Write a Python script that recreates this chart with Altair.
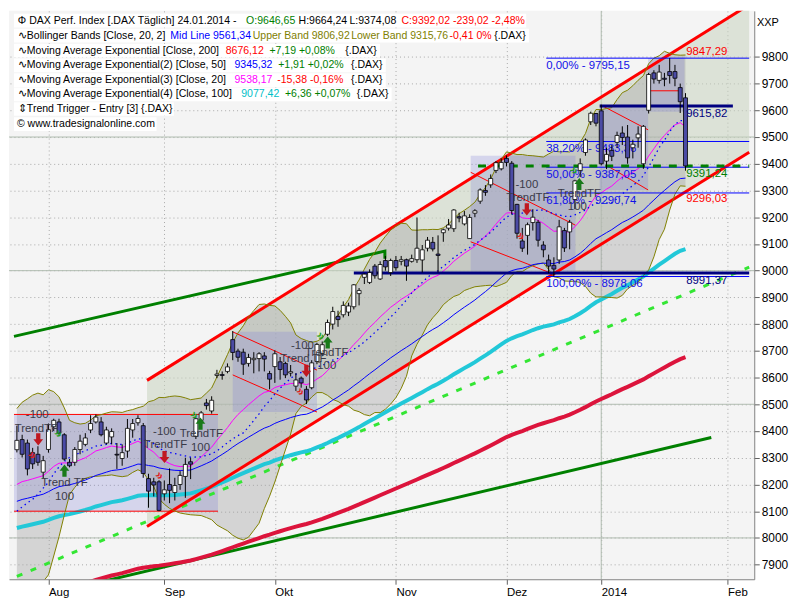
import altair as alt
import numpy as np
import pandas as pd

# ---------------- data: daily DAX candles, index 0 = 24.07.2013 ... 127 = 24.01.2014
opens = [8330, 8368, 8355, 8319, 8313, 8246, 8331, 8416, 8434, 8386,
         8283, 8283, 8331, 8350, 8404, 8434, 8434, 8355, 8378, 8313,
         8297, 8325, 8404, 8431, 8420, 8222, 8210, 8210, 8165, 8200,
         8170, 8200, 8230, 8285, 8380, 8440, 8505, 8475, 8608, 8611,
         8623, 8742, 8699, 8695, 8653, 8667, 8671, 8681, 8615, 8641,
         8659, 8653, 8617, 8568, 8598, 8556, 8562, 8660, 8690, 8762,
         8800, 8829, 8835, 8845, 8865, 8914, 8975, 8956, 9017, 8969,
         9038, 8993, 9038, 9035, 9041, 9035, 9041, 9040, 9084, 9106,
         9062, 9142, 9159, 9157, 9202, 9175, 9120, 9215, 9260, 9300,
         9321, 9375, 9381, 9420, 9402, 9248, 9111, 9132, 9180, 9181,
         9096, 9040, 9020, 9040, 9150, 9145, 9266, 9375, 9442, 9557,
         9588, 9598, 9410, 9450, 9480, 9515, 9500, 9460, 9497, 9400,
         9600, 9740, 9712, 9720, 9745, 9745, 9685, 9646.65]
highs = [8420, 8386, 8368, 8337, 8343, 8307, 8428, 8446, 8446, 8392,
         8295, 8340, 8386, 8392, 8459, 8462, 8452, 8416, 8410, 8355,
         8350, 8445, 8445, 8459, 8430, 8240, 8225, 8216, 8215, 8260,
         8225, 8250, 8300, 8300, 8450, 8475, 8520, 8530, 8629, 8623,
         8653, 8774, 8708, 8708, 8689, 8695, 8695, 8695, 8625, 8702,
         8677, 8659, 8647, 8617, 8604, 8568, 8665, 8730, 8735, 8817,
         8865, 8850, 8885, 8880, 8950, 8935, 8990, 9005, 9025, 9035,
         9055, 9045, 9055, 9055, 9045, 9060, 9199, 9096, 9126, 9126,
         9132, 9157, 9193, 9230, 9217, 9223, 9211, 9230, 9308, 9320,
         9360, 9410, 9420, 9431, 9410, 9250, 9160, 9180, 9230, 9190,
         9110, 9060, 9050, 9190, 9160, 9190, 9340, 9420, 9495, 9595,
         9590, 9621, 9460, 9470, 9520, 9540, 9545, 9490, 9540, 9545,
         9740, 9750, 9770, 9740, 9795.15, 9770, 9700, 9664.24]
lows = [8320, 8301, 8234, 8258, 8270, 8222, 8319, 8400, 8386, 8289,
        8264, 8270, 8313, 8343, 8392, 8428, 8380, 8350, 8350, 8258,
        8270, 8300, 8375, 8420, 8225, 8113, 8155, 8100, 8140, 8130,
        8140, 8180, 8150, 8220, 8370, 8420, 8480, 8465, 8598, 8592,
        8616, 8665, 8659, 8610, 8641, 8616, 8623, 8623, 8556, 8580,
        8592, 8598, 8604, 8550, 8562, 8501, 8556, 8650, 8680, 8756,
        8780, 8790, 8825, 8830, 8855, 8870, 8950, 8950, 8970, 8965,
        9000, 8980, 9000, 9020, 8962, 9030, 9029, 8993, 9072, 9072,
        8993, 9108, 9150, 9145, 9181, 9169, 9120, 9200, 9250, 9280,
        9310, 9365, 9375, 9390, 9210, 9120, 9070, 9060, 9150, 9090,
        9050, 8990, 8978.06, 9025, 9070, 9080, 9230, 9350, 9430, 9545,
        9540, 9394, 9380, 9410, 9460, 9470, 9400, 9420, 9460, 9381,
        9588, 9700, 9700, 9690, 9700, 9690, 9590, 9374.08]
closes = [8365, 8313, 8258, 8277, 8283, 8289, 8405, 8440, 8392, 8295,
          8270, 8331, 8362, 8374, 8428, 8452, 8386, 8404, 8398, 8310,
          8319, 8410, 8428, 8447, 8241, 8175, 8198, 8103, 8180, 8178,
          8196, 8234, 8275, 8276, 8446, 8468, 8495, 8515, 8613, 8608,
          8640, 8694, 8676, 8650, 8675, 8672, 8689, 8669, 8594, 8689,
          8630, 8610, 8622, 8591, 8580, 8516, 8655, 8724, 8723, 8806,
          8847, 8817, 8870, 8868, 8947, 8926, 8987, 8993, 8981, 9023,
          9014, 9038, 9011, 9041, 9017, 9045, 9084, 9078, 9114, 9081,
          9057, 9153, 9171, 9227, 9197, 9205, 9199, 9224, 9302, 9293,
          9345, 9404, 9405, 9405, 9225, 9140, 9084, 9172, 9200, 9114,
          9078, 9017, 9006, 9164, 9085, 9181, 9336, 9400, 9489, 9589,
          9552, 9400, 9435, 9428, 9506, 9498, 9422, 9473, 9511, 9540,
          9734, 9717, 9743, 9716, 9730, 9720, 9632, 9392.02]
# closes before the first visible bar (needed by the 20-day Bollinger window)
prior_closes = [7990, 7959, 8001, 7911, 7829, 7969, 7806, 7867, 7900, 7968,
                8150, 8180, 8240, 8250, 8270, 8330, 8331, 8325, 8356]

# EMA values at the first bar / last bar (legend)
ema_first = {20: 8200.0, 50: 8137.0, 100: 8037.0}
ema200_last = 8676.12

month_idx = [6, 28, 49, 72, 93, 111, 135]
month_lbl = ["Aug", "Sep", "Okt", "Nov", "Dez", "2014", "Feb"]
y_ticks = list(range(7900, 9801, 100))
major_levels = [8000, 8500, 9000, 9500]
year_idx = [111]

# drawing-tool objects (bar index, price)
chan_i = [24.72, 139.1]
chan_upper = [8589.5, 9995.0]
chan_lower = [8043.0, 9443.0]
green_top_i = [-0.55, 69.9, 69.9]
green_top_v = [8754.0, 9073.0, 9045.0]
green_bot_i = [15.0, 131.9]
green_bot_v = [7831.0, 8376.0]
lime_i = [0.0, 139.1]
lime_v = [7856.0, 9013.0]

box_i0 = [-0.55, 41.0, 86.2, 110.7, 119.9]
box_i1 = [38.2, 57.0, 106.1, 119.9, 126.8]
box_top = [8462, 8771, 9430, 9617, 9796]
box_bot = [8100, 8471, 8998, 9302, 9595]

seg_i0 = [-0.55, -0.55, 41.0, 41.0, 86.2, 86.2, 111.1, 112.0, 119.9]
seg_v0 = [8462, 8100, 8771, 8610, 9368, 9108, 9618, 9394, 9673]
seg_i1 = [38.2, 38.2, 57.0, 57.0, 106.1, 100.9, 119.9, 119.9, 126.3]
seg_v1 = [8462, 8100, 8628, 8471, 9170, 8995, 9527, 9302, 9673]

fib_levels = [9795.15, 9483.36, 9387.05, 9290.74, 8978.06]
fib_labels = ["0,00% - 9795,15", "38,20% - 9483,36", "50,00% - 9387,05",
              "61,80% - 9290,74", "100,00% - 8978,06"]
fib_i0, fib_i1 = 100.55, 139.1

navy_i0 = [110.7, 64.0]
navy_i1 = [136.0, 139.1]
navy_v = [9615.82, 8991.37]
gdash_i0, gdash_i1, gdash_v = 87.6, 139.1, 9391.24

val_labels = ["9847,29", "9615,82", "9391,24", "9296,03", "8991,37"]
val_values = [9847.29, 9615.82, 9391.24, 9296.03, 8991.37]
val_colors = ["#ff0000", "#000080", "#008000", "#ff0000", "#000080"]

# ---------------- pixel <-> data helpers (reference pixel positions for overlays)
def DI(ox):
    return (ox - 3) / 5.42

def DV(oy):
    return 9800 - (oy - 47) / 0.2732

XDOM = [DI(0), DI(757)]
YDOM = [DV(581), DV(0)]
XS = alt.Scale(domain=XDOM, nice=False, zero=False)
YS = alt.Scale(domain=YDOM, nice=False, zero=False)

expr = " : ".join([f"datum.value == {v} ? '{l}'" for v, l in zip(month_idx, month_lbl)]) + " : ''"
X_AXIS = alt.Axis(values=month_idx, labelExpr=expr, orient="bottom", grid=True,
                  gridColor="#a8a8a8", gridDash=[1, 3], domainColor="#808080",
                  tickColor="#606060", tickSize=5, labelAlign="left", labelPadding=2,
                  labelFont="Liberation Sans", labelFontSize=11.5, labelColor="#000000",
                  labelFlush=False, labelOverlap=False, title=None)
Y_AXIS = alt.Axis(values=y_ticks, format="d", orient="right", grid=True,
                  gridColor="#a8a8a8", gridDash=[1, 3], domainColor="#808080",
                  tickColor="#606060", tickSize=5, labelPadding=2,
                  labelFont="Liberation Sans", labelFontSize=12, labelColor="#000000",
                  labelFlush=False, labelOverlap=False, title=None)

def X(f):
    return alt.X(f + ":Q", scale=XS, axis=X_AXIS)

def Y(f):
    return alt.Y(f + ":Q", scale=YS, axis=Y_AXIS)

# Arial / Liberation Sans advance widths (per 1000 em) to lay legend segments out
AW = {" ": 278, "%": 889, "+": 584, ",": 278, "-": 333, ".": 278, ":": 278, "(": 333, ")": 333,
      "[": 278, "]": 278, "{": 334, "}": 334, "A": 667, "B": 667, "C": 722, "D": 722, "E": 667,
      "F": 611, "H": 722, "I": 278, "L": 556, "M": 833, "O": 778, "P": 667, "T": 611, "U": 722,
      "X": 667, "a": 556, "b": 556, "c": 500, "d": 556, "e": 556, "f": 278, "g": 556, "h": 556,
      "i": 222, "l": 222, "m": 833, "n": 556, "o": 556, "p": 556, "r": 333, "s": 500, "t": 278,
      "u": 556, "v": 500, "w": 722, "x": 500, "y": 500, "\u00e4": 556, "\u00a9": 737}

def text_w(s, size):
    return sum(AW.get(ch, 556 if ch.isdigit() else 820) for ch in s) * size / 1000.0

# ---------------- indicators
c = np.array(closes, float)
n = len(c)
full = np.concatenate([np.array(prior_closes, float), c])
bbm = np.array([full[k:k + 20].mean() for k in range(n)])
bbs = np.array([full[k:k + 20].std() for k in range(n)])
bbu = bbm + 2 * bbs
bbl = bbm - 2 * bbs

def ema(seed, period):
    a = 2.0 / (period + 1)
    out = [seed]
    for k in range(1, n):
        out.append(out[-1] + a * (c[k] - out[-1]))
    return np.array(out)

a200 = 2.0 / 201
seed200 = (ema200_last - ema(0.0, 200)[-1]) / (1 - a200) ** (n - 1)

df = pd.DataFrame({
    "i": np.arange(n), "o": opens, "h": highs, "l": lows, "c": closes,
    "bbu": bbu, "bbl": bbl, "bbm": bbm,
    "e20": ema(ema_first[20], 20), "e50": ema(ema_first[50], 50),
    "e100": ema(ema_first[100], 100), "e200": ema(seed200, 200),
})
df["dir"] = np.where(df["c"] >= df["o"], "up", "down")

layers = []

# solid grid lines
layers.append(alt.Chart(pd.DataFrame({"v": major_levels})).mark_rule(color="#b0bcb0", strokeWidth=1).encode(y=Y("v")))
layers.append(alt.Chart(pd.DataFrame({"i": year_idx})).mark_rule(color="#b0bcb0", strokeWidth=1).encode(x=X("i")))

# channel fill
chan_df = pd.DataFrame({"i": chan_i, "hi": chan_upper, "lo": chan_lower})
layers.append(alt.Chart(chan_df).mark_area(color="#c8d4c0", opacity=0.55, clip=True).encode(
    x=X("i"), y=Y("hi"), y2=alt.Y2("lo:Q")))
# Bollinger fill
layers.append(alt.Chart(df).mark_area(color="#a8a8a8", opacity=0.42, clip=True).encode(
    x=X("i"), y=Y("bbu"), y2=alt.Y2("bbl:Q")))
# boxes
box_df = pd.DataFrame({"i0": box_i0, "i1": box_i1, "t": box_top, "b": box_bot})
layers.append(alt.Chart(box_df).mark_rect(color="#8080d8", opacity=0.27, clip=True).encode(
    x=X("i0"), x2=alt.X2("i1:Q"), y=Y("t"), y2=alt.Y2("b:Q")))

# trend lines
def line(i_list, v_list, **kw):
    d = pd.DataFrame({"i": i_list, "v": v_list, "k": range(len(i_list))})
    return alt.Chart(d).mark_line(clip=True, **kw).encode(x=X("i"), y=Y("v"), order="k:Q")

layers.append(line(green_top_i, green_top_v, color="#008000", strokeWidth=3))
layers.append(line(green_bot_i, green_bot_v, color="#008000", strokeWidth=3))
layers.append(line(lime_i, lime_v, color="#33e633", strokeWidth=3, strokeDash=[6, 9]))

# EMAs (thick)
layers.append(alt.Chart(df).mark_line(color="#dc143c", strokeWidth=4, clip=True).encode(x=X("i"), y=Y("e200")))
layers.append(alt.Chart(df).mark_line(color="#22c8d8", strokeWidth=4, clip=True).encode(x=X("i"), y=Y("e100")))

# channel lines
layers.append(line(chan_i, chan_upper, color="#ff0000", strokeWidth=3))
layers.append(line(chan_i, chan_lower, color="#ff0000", strokeWidth=3))

# box red lines
seg_df = pd.DataFrame({"i0": seg_i0, "v0": seg_v0, "i1": seg_i1, "v1": seg_v1})
layers.append(alt.Chart(seg_df).mark_rule(color="#ff0000", strokeWidth=1, clip=True).encode(
    x=X("i0"), y=Y("v0"), x2=alt.X2("i1:Q"), y2=alt.Y2("v1:Q")))

# Bollinger + thin EMAs
layers.append(alt.Chart(df).mark_line(color="#808000", strokeWidth=1, clip=True).encode(x=X("i"), y=Y("bbu")))
layers.append(alt.Chart(df).mark_line(color="#808000", strokeWidth=1, clip=True).encode(x=X("i"), y=Y("bbl")))
layers.append(alt.Chart(df).mark_line(color="#0000ff", strokeWidth=1, clip=True).encode(x=X("i"), y=Y("e50")))
layers.append(alt.Chart(df).mark_line(color="#ff00ff", strokeWidth=1, clip=True).encode(x=X("i"), y=Y("e20")))
layers.append(alt.Chart(df).mark_line(color="#0000ff", strokeWidth=1.3, strokeDash=[1.5, 3.5], clip=True).encode(x=X("i"), y=Y("bbm")))

# fib levels
fib_df = pd.DataFrame({"v": fib_levels, "t": fib_labels, "i0": fib_i0, "i1": fib_i1})
layers.append(alt.Chart(fib_df).mark_rule(color="#0000ff", strokeWidth=1, clip=True).encode(
    x=X("i0"), x2=alt.X2("i1:Q"), y=Y("v")))
layers.append(alt.Chart(fib_df).mark_text(align="left", baseline="top", dy=2, color="#1010e8",
                                          font="Liberation Sans", fontSize=11.5).encode(
    x=X("i0"), y=Y("v"), text="t:N"))

# navy + green dashed horizontal lines
navy_df = pd.DataFrame({"i0": navy_i0, "i1": navy_i1, "v": navy_v})
layers.append(alt.Chart(navy_df).mark_rule(color="#000080", strokeWidth=3, clip=True).encode(
    x=X("i0"), x2=alt.X2("i1:Q"), y=Y("v")))
gd_df = pd.DataFrame({"i0": [gdash_i0], "i1": [gdash_i1], "v": [gdash_v]})
layers.append(alt.Chart(gd_df).mark_rule(color="#008000", strokeWidth=3, strokeDash=[8, 8], clip=True).encode(
    x=X("i0"), x2=alt.X2("i1:Q"), y=Y("v")))

# candles
layers.append(alt.Chart(df).mark_rule(color="#000000", strokeWidth=1, clip=True).encode(
    x=X("i"), y=Y("l"), y2=alt.Y2("h:Q")))
layers.append(alt.Chart(df).mark_bar(size=4, stroke="#000000", strokeWidth=0.8, clip=True).encode(
    x=X("i"), y=Y("o"), y2=alt.Y2("c:Q"),
    fill=alt.Fill("dir:N", scale=alt.Scale(domain=["up", "down"], range=["#ffffff", "#4b4ba5"]), legend=None)))

# value labels at the right
vl_df = pd.DataFrame({"t": val_labels, "v": val_values, "col": val_colors, "i": DI(692)})
layers.append(alt.Chart(vl_df).mark_text(align="left", baseline="top", dy=2, font="Liberation Sans",
                                         fontSize=11.5).encode(
    x=X("i"), y=Y("v"), text="t:N", color=alt.Color("col:N", scale=None)))

# Trend Trigger annotations (reference pixel positions)
tt = [("-100", 24, 413), ("TrendTF", 23, 427), ("Trend TF", 52, 483), ("100", 52, 497),
      ("-100", 155, 431), ("TrendTF", 156, 444), ("TrendTF", 193, 433), ("100", 192, 447),
      ("-100", 297, 343), ("Trend TF", 298, 356), ("TrendTF", 322, 350), ("100", 322, 363),
      ("-100", 528, 178), ("TrendTF", 529, 191), ("TrendTF", 582, 187), ("100", 580, 201)]
tt_df = pd.DataFrame({"t": [a[0] for a in tt], "i": [DI(a[1]) for a in tt], "v": [DV(a[2]) for a in tt]})
layers.append(alt.Chart(tt_df).mark_text(align="center", baseline="middle", color="#3a3a48",
                                         font="Liberation Sans", fontSize=11.5).encode(
    x=X("i"), y=Y("v"), text="t:N"))

down_pts = [(25, 438), (155, 456), (301, 368), (528, 203)]
up_pts = [(52, 470), (192, 422), (323, 339), (582, 177)]
down_shape = "M-0.35,-1 L0.35,-1 L0.35,0 L0.8,0 L0,1 L-0.8,0 L-0.35,0 Z"
up_shape = "M-0.35,1 L0.35,1 L0.35,0 L0.8,0 L0,-1 L-0.8,0 L-0.35,0 Z"
dn_df = pd.DataFrame({"i": [DI(p[0]) for p in down_pts], "v": [DV(p[1]) for p in down_pts]})
up_df = pd.DataFrame({"i": [DI(p[0]) for p in up_pts], "v": [DV(p[1]) for p in up_pts]})
layers.append(alt.Chart(dn_df).mark_point(shape=down_shape, filled=True, size=150, color="#c01820", opacity=1).encode(
    x=X("i"), y=Y("v")))
layers.append(alt.Chart(up_df).mark_point(shape=up_shape, filled=True, size=150, color="#1a7a1a", opacity=1).encode(
    x=X("i"), y=Y("v")))

chev = [(19, 454, "#e02020"), (150, 475, "#e02020"), (295, 389, "#e02020"), (522, 230, "#e02020"),
        (46, 432, "#20a020"), (186, 413, "#20a020"), (316, 332, "#20a020"), (577, 163, "#20a020")]
ch_df = pd.DataFrame({"i": [DI(a[0]) for a in chev], "v": [DV(a[1]) for a in chev], "col": [a[2] for a in chev]})
layers.append(alt.Chart(ch_df).mark_text(text="»", align="center", baseline="middle", fontSize=13,
                                         fontWeight="bold", angle=45).encode(
    x=X("i"), y=Y("v"), color=alt.Color("col:N", scale=None)))

# legend block at top-left
LEG_FS = 10.6
legend_rows = [
    (10.0, [("\u03a6 DAX Perf. Index [.DAX  Täglich] 24.01.2014 -", 4, "#000000"), ("O:9646,65", 239, "#008000"),
            ("H:9664,24", 293, "#000000"), ("L:9374,08", 343, "#000000"),
            ("C:9392,02 -239,02 -2,48%", 399, "#ff0000")]),
    (25.3, [("\u223fBollinger Bands [Close, 20, 2]", 4, "#000000"), ("Mid Line 9561,34", 161, "#0000ff"),
            ("Upper Band 9806,92", 245, "#808000"), ("Lower Band 9315,76", 344, "#808000"),
            ("-0,41 0%", 440, "#ff0000"), ("{.DAX}", 477, "#000000")]),
    (40.7, [("\u223fMoving Average Exponential [Close, 200]", 4, "#000000"), ("8676,12", 218, "#ff0000"),
            ("+7,19 +0,08%", 263, "#008000"), ("{.DAX}", 341, "#000000")]),
    (55.7, [("\u223fMoving Average Exponential(2) [Close, 50]", 4, "#000000"), ("9345,32", 227, "#0000ff"),
            ("+1,91 +0,02%", 272, "#008000"), ("{.DAX}", 347, "#000000")]),
    (70.7, [("\u223fMoving Average Exponential(3) [Close, 20]", 4, "#000000"), ("9538,17", 227, "#ff00ff"),
            ("-15,38 -0,16%", 271, "#ff0000"), ("{.DAX}", 347, "#000000")]),
    (85.3, [("\u223fMoving Average Exponential(4) [Close, 100]", 4, "#000000"), ("9077,42", 234, "#00c0c8"),
            ("+6,36 +0,07%", 279, "#008000"), ("{.DAX}", 353, "#000000")]),
    (100.3, [("\u21d5Trend Trigger - Entry [3] {.DAX}", 4, "#000000")]),
    (115.7, [("\u00a9 www.tradesignalonline.com", 3, "#000000")]),
]
lt_rows, box_rows = [], []
for cy, segs in legend_rows:
    end = 0.0
    for txt, ox, col in segs:
        x0 = max(float(ox), end + 3.5 if end > 0 else float(ox))
        lt_rows.append({"t": txt, "i": DI(x0), "v": DV(cy), "col": col})
        end = x0 + text_w(txt, LEG_FS)
    box_rows.append({"i0": DI(0), "i1": DI(end + 4), "t": DV(cy - 7), "b": DV(cy + 7)})
layers.append(alt.Chart(pd.DataFrame(box_rows)).mark_rect(color="#ffffff").encode(
    x=X("i0"), x2=alt.X2("i1:Q"), y=Y("t"), y2=alt.Y2("b:Q")))
layers.append(alt.Chart(pd.DataFrame(lt_rows)).mark_text(align="left", baseline="middle",
                                                         font="Liberation Sans", fontSize=LEG_FS).encode(
    x=X("i"), y=Y("v"), text="t:N", color=alt.Color("col:N", scale=None)))

# "XXP" header over the price axis
layers.append(alt.Chart(pd.DataFrame({"t": ["XXP"], "i": [DI(765)], "v": [DV(12)]})).mark_text(
    align="left", baseline="middle", font="Liberation Sans", fontSize=11, color="#000000").encode(
    x=X("i"), y=Y("v"), text="t:N"))

chart = alt.layer(*layers).properties(
    width=750, height=572,
    padding={"left": 0, "top": 0, "right": 4, "bottom": 0},
    background="#ffffff",
).configure_view(fill="#f4f4f4", strokeWidth=0)

chart.save("out.html", embed_options={"renderer": "svg", "actions": False})
